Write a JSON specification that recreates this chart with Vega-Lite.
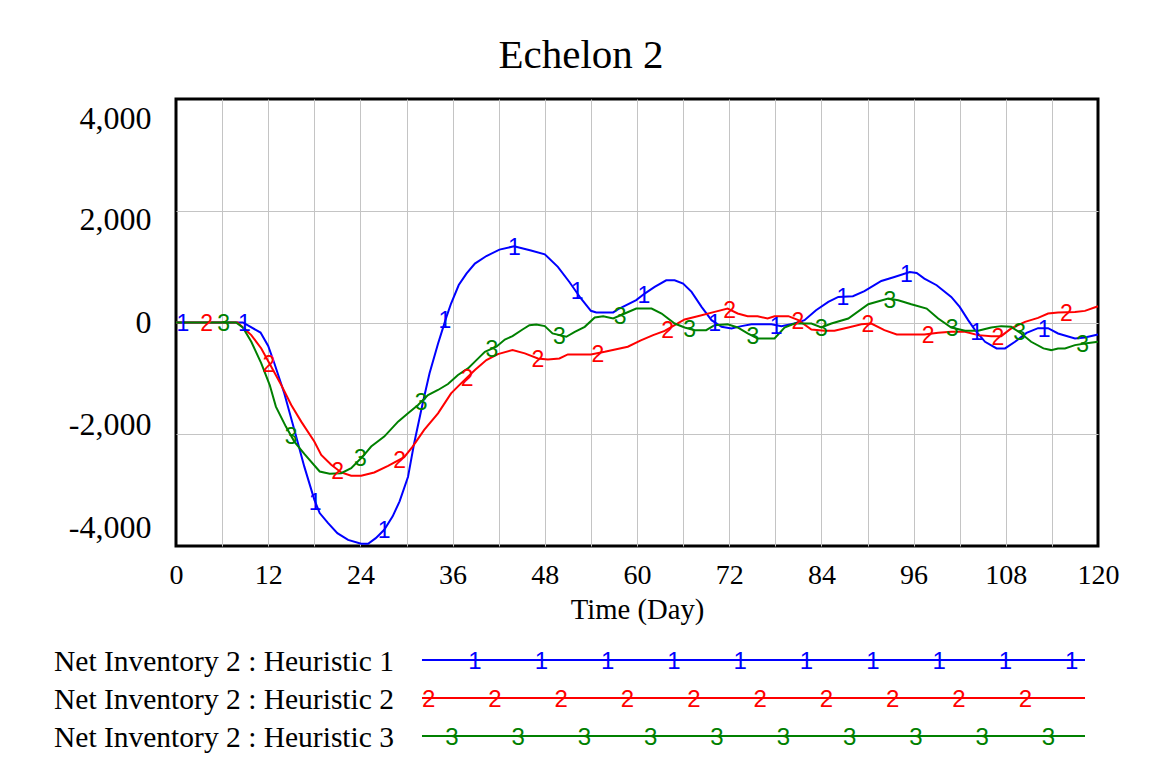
{
  "$schema": "https://vega.github.io/schema/vega-lite/v6.json",
  "autosize": {"type": "pad"},
  "padding": {"left": 53, "top": 33, "right": 36, "bottom": 15},
  "background": "white",
  "bounds": "flush",
  "spacing": 114,
  "config": {
    "view": {"stroke": "black", "strokeWidth": 3},
    "axis": {"labelFont": "Liberation Serif", "labelColor": "black", "domain": false, "ticks": false, "gridColor": "#c4c4c4", "gridWidth": 1, "gridOpacity": 1},
    "text": {"font": "Liberation Sans"}
  },
  "datasets": {
    "series": [
      {"s":"H1","t":0,"v":0},{"s":"H1","t":8.7,"v":0},{"s":"H1","t":11,"v":-180},{"s":"H1","t":12,"v":-420},{"s":"H1","t":12.8,"v":-730},{"s":"H1","t":14.1,"v":-1270},{"s":"H1","t":15.4,"v":-1920},{"s":"H1","t":16.7,"v":-2580},{"s":"H1","t":18,"v":-3170},{"s":"H1","t":18.7,"v":-3410},{"s":"H1","t":19.8,"v":-3590},{"s":"H1","t":21,"v":-3770},{"s":"H1","t":22.4,"v":-3890},{"s":"H1","t":24.1,"v":-3960},{"s":"H1","t":25,"v":-3960},{"s":"H1","t":26,"v":-3860},{"s":"H1","t":27.1,"v":-3710},{"s":"H1","t":28.2,"v":-3470},{"s":"H1","t":29.1,"v":-3200},{"s":"H1","t":30.2,"v":-2760},{"s":"H1","t":31,"v":-2160},{"s":"H1","t":32.1,"v":-1450},{"s":"H1","t":33,"v":-910},{"s":"H1","t":34.1,"v":-380},{"s":"H1","t":35.2,"v":100},{"s":"H1","t":35.8,"v":340},{"s":"H1","t":36.8,"v":670},{"s":"H1","t":37.8,"v":875},{"s":"H1","t":38.9,"v":1055},{"s":"H1","t":40.4,"v":1190},{"s":"H1","t":42.1,"v":1305},{"s":"H1","t":44,"v":1365},{"s":"H1","t":46.2,"v":1290},{"s":"H1","t":48,"v":1220},{"s":"H1","t":49.7,"v":995},{"s":"H1","t":51.2,"v":725},{"s":"H1","t":52.7,"v":430},{"s":"H1","t":54,"v":210},{"s":"H1","t":54.7,"v":180},{"s":"H1","t":56.9,"v":180},{"s":"H1","t":57.7,"v":250},{"s":"H1","t":59.9,"v":400},{"s":"H1","t":61,"v":518},{"s":"H1","t":62.3,"v":637},{"s":"H1","t":63.8,"v":756},{"s":"H1","t":64.9,"v":756},{"s":"H1","t":66,"v":696},{"s":"H1","t":67.1,"v":548},{"s":"H1","t":68.4,"v":280},{"s":"H1","t":69.7,"v":42},{"s":"H1","t":71,"v":-77},{"s":"H1","t":72.3,"v":-107},{"s":"H1","t":73.6,"v":-65},{"s":"H1","t":74.9,"v":-30},{"s":"H1","t":77.5,"v":-30},{"s":"H1","t":78.8,"v":-65},{"s":"H1","t":80.5,"v":-18},{"s":"H1","t":81.8,"v":42},{"s":"H1","t":83.3,"v":220},{"s":"H1","t":84.9,"v":369},{"s":"H1","t":86.2,"v":458},{"s":"H1","t":88.1,"v":470},{"s":"H1","t":89.6,"v":560},{"s":"H1","t":91.8,"v":744},{"s":"H1","t":93.5,"v":815},{"s":"H1","t":95.5,"v":905},{"s":"H1","t":96.4,"v":887},{"s":"H1","t":97.4,"v":786},{"s":"H1","t":99,"v":667},{"s":"H1","t":100.9,"v":458},{"s":"H1","t":102,"v":280},{"s":"H1","t":103.1,"v":42},{"s":"H1","t":104,"v":-137},{"s":"H1","t":105.3,"v":-345},{"s":"H1","t":106.8,"v":-464},{"s":"H1","t":107.9,"v":-464},{"s":"H1","t":109.2,"v":-345},{"s":"H1","t":110.7,"v":-185},{"s":"H1","t":112.2,"v":-101},{"s":"H1","t":113.5,"v":-101},{"s":"H1","t":114.8,"v":-196},{"s":"H1","t":117,"v":-286},{"s":"H1","t":118.3,"v":-268},{"s":"H1","t":120,"v":-214},
      {"s":"H2","t":0,"v":0},{"s":"H2","t":8,"v":0},{"s":"H2","t":9.8,"v":-226},{"s":"H2","t":11.1,"v":-464},{"s":"H2","t":12.4,"v":-792},{"s":"H2","t":13.7,"v":-1119},{"s":"H2","t":15,"v":-1476},{"s":"H2","t":16.3,"v":-1774},{"s":"H2","t":18,"v":-2131},{"s":"H2","t":18.9,"v":-2369},{"s":"H2","t":20.2,"v":-2547},{"s":"H2","t":21.5,"v":-2684},{"s":"H2","t":22.8,"v":-2744},{"s":"H2","t":24.1,"v":-2744},{"s":"H2","t":25.8,"v":-2684},{"s":"H2","t":27.6,"v":-2565},{"s":"H2","t":29.7,"v":-2411},{"s":"H2","t":30.8,"v":-2220},{"s":"H2","t":32.3,"v":-1923},{"s":"H2","t":34.1,"v":-1625},{"s":"H2","t":35.8,"v":-1268},{"s":"H2","t":37.1,"v":-1089},{"s":"H2","t":38.9,"v":-851},{"s":"H2","t":40.4,"v":-673},{"s":"H2","t":41.9,"v":-565},{"s":"H2","t":43.8,"v":-494},{"s":"H2","t":45.4,"v":-553},{"s":"H2","t":47.1,"v":-643},{"s":"H2","t":48.4,"v":-661},{"s":"H2","t":49.9,"v":-643},{"s":"H2","t":51,"v":-571},{"s":"H2","t":54,"v":-571},{"s":"H2","t":55.8,"v":-524},{"s":"H2","t":58.8,"v":-434},{"s":"H2","t":60.5,"v":-320},{"s":"H2","t":62.1,"v":-226},{"s":"H2","t":63.6,"v":-149},{"s":"H2","t":64.9,"v":-48},{"s":"H2","t":66.2,"v":54},{"s":"H2","t":67.9,"v":113},{"s":"H2","t":70.1,"v":190},{"s":"H2","t":71.8,"v":250},{"s":"H2","t":73.1,"v":161},{"s":"H2","t":74.4,"v":113},{"s":"H2","t":75.7,"v":113},{"s":"H2","t":77,"v":71},{"s":"H2","t":77.9,"v":113},{"s":"H2","t":79.7,"v":113},{"s":"H2","t":81,"v":42},{"s":"H2","t":82.7,"v":-125},{"s":"H2","t":84.4,"v":-149},{"s":"H2","t":85.7,"v":-149},{"s":"H2","t":87.5,"v":-89},{"s":"H2","t":89.2,"v":-30},{"s":"H2","t":90.5,"v":-18},{"s":"H2","t":92.2,"v":-137},{"s":"H2","t":93.8,"v":-214},{"s":"H2","t":97.4,"v":-214},{"s":"H2","t":99.2,"v":-185},{"s":"H2","t":100.9,"v":-167},{"s":"H2","t":102.7,"v":-167},{"s":"H2","t":104.4,"v":-226},{"s":"H2","t":106.1,"v":-244},{"s":"H2","t":107.4,"v":-244},{"s":"H2","t":108.7,"v":-107},{"s":"H2","t":110.5,"v":12},{"s":"H2","t":112.2,"v":83},{"s":"H2","t":113.5,"v":161},{"s":"H2","t":114.8,"v":179},{"s":"H2","t":117,"v":190},{"s":"H2","t":118.3,"v":208},{"s":"H2","t":120,"v":292},
      {"s":"H3","t":0,"v":0},{"s":"H3","t":7.8,"v":0},{"s":"H3","t":8.7,"v":-89},{"s":"H3","t":9.8,"v":-345},{"s":"H3","t":11.1,"v":-732},{"s":"H3","t":12.2,"v":-1119},{"s":"H3","t":13,"v":-1506},{"s":"H3","t":14.3,"v":-1863},{"s":"H3","t":15.4,"v":-2131},{"s":"H3","t":16.7,"v":-2351},{"s":"H3","t":18.7,"v":-2667},{"s":"H3","t":20,"v":-2708},{"s":"H3","t":21.5,"v":-2696},{"s":"H3","t":22.8,"v":-2607},{"s":"H3","t":24.3,"v":-2399},{"s":"H3","t":25.4,"v":-2220},{"s":"H3","t":27.1,"v":-2042},{"s":"H3","t":28.9,"v":-1774},{"s":"H3","t":30.2,"v":-1625},{"s":"H3","t":31.5,"v":-1476},{"s":"H3","t":32.8,"v":-1298},{"s":"H3","t":34.1,"v":-1208},{"s":"H3","t":35.4,"v":-1101},{"s":"H3","t":36.7,"v":-940},{"s":"H3","t":38,"v":-821},{"s":"H3","t":39.1,"v":-673},{"s":"H3","t":40.2,"v":-524},{"s":"H3","t":41.7,"v":-434},{"s":"H3","t":42.8,"v":-304},{"s":"H3","t":43.8,"v":-244},{"s":"H3","t":45.1,"v":-125},{"s":"H3","t":46,"v":-48},{"s":"H3","t":46.9,"v":-36},{"s":"H3","t":48,"v":-65},{"s":"H3","t":49,"v":-196},{"s":"H3","t":50.8,"v":-256},{"s":"H3","t":51.9,"v":-167},{"s":"H3","t":53.2,"v":-77},{"s":"H3","t":54.5,"v":89},{"s":"H3","t":55.6,"v":113},{"s":"H3","t":56.9,"v":71},{"s":"H3","t":58.4,"v":161},{"s":"H3","t":59.9,"v":250},{"s":"H3","t":61.9,"v":250},{"s":"H3","t":63.2,"v":161},{"s":"H3","t":64.9,"v":-18},{"s":"H3","t":66.2,"v":-89},{"s":"H3","t":67.5,"v":-137},{"s":"H3","t":69,"v":-137},{"s":"H3","t":70.1,"v":-48},{"s":"H3","t":71.8,"v":-30},{"s":"H3","t":73.1,"v":-89},{"s":"H3","t":74.4,"v":-196},{"s":"H3","t":75.7,"v":-286},{"s":"H3","t":77.9,"v":-286},{"s":"H3","t":79.2,"v":-89},{"s":"H3","t":80.5,"v":-18},{"s":"H3","t":82.7,"v":-18},{"s":"H3","t":84,"v":-89},{"s":"H3","t":85.3,"v":-18},{"s":"H3","t":87.5,"v":71},{"s":"H3","t":90.1,"v":327},{"s":"H3","t":92.7,"v":429},{"s":"H3","t":94,"v":399},{"s":"H3","t":95.7,"v":327},{"s":"H3","t":97.7,"v":250},{"s":"H3","t":99.2,"v":71},{"s":"H3","t":100.9,"v":-89},{"s":"H3","t":102.7,"v":-149},{"s":"H3","t":104.4,"v":-149},{"s":"H3","t":106.1,"v":-89},{"s":"H3","t":107.4,"v":-65},{"s":"H3","t":108.7,"v":-77},{"s":"H3","t":110,"v":-196},{"s":"H3","t":111.3,"v":-345},{"s":"H3","t":112.9,"v":-464},{"s":"H3","t":113.9,"v":-494},{"s":"H3","t":114.8,"v":-464},{"s":"H3","t":115.7,"v":-464},{"s":"H3","t":117,"v":-405},{"s":"H3","t":118.3,"v":-375},{"s":"H3","t":120,"v":-345}
    ],
    "markers": [
      {"s":"H1","m":"1","t":0.9,"v":0},{"s":"H1","m":"1","t":8.9,"v":0},{"s":"H1","m":"1","t":18.1,"v":-3200},{"s":"H1","m":"1","t":27.1,"v":-3700},{"s":"H1","m":"1","t":35.0,"v":50},{"s":"H1","m":"1","t":44.05,"v":1360},{"s":"H1","m":"1","t":52.2,"v":580},{"s":"H1","m":"1","t":60.9,"v":500},{"s":"H1","m":"1","t":70.1,"v":0},{"s":"H1","m":"1","t":78.1,"v":-45},{"s":"H1","m":"1","t":86.8,"v":460},{"s":"H1","m":"1","t":95.05,"v":880},{"s":"H1","m":"1","t":104.2,"v":-160},{"s":"H1","m":"1","t":113.0,"v":-100},
      {"s":"H2","m":"2","t":4.0,"v":0},{"s":"H2","m":"2","t":12.1,"v":-740},{"s":"H2","m":"2","t":21.05,"v":-2650},{"s":"H2","m":"2","t":29.1,"v":-2460},{"s":"H2","m":"2","t":37.9,"v":-990},{"s":"H2","m":"2","t":47.1,"v":-643},{"s":"H2","m":"2","t":54.9,"v":-560},{"s":"H2","m":"2","t":64.0,"v":-120},{"s":"H2","m":"2","t":72.05,"v":240},{"s":"H2","m":"2","t":80.95,"v":40},{"s":"H2","m":"2","t":90.06,"v":-20},{"s":"H2","m":"2","t":97.9,"v":-210},{"s":"H2","m":"2","t":106.98,"v":-244},{"s":"H2","m":"2","t":115.9,"v":185},
      {"s":"H3","m":"3","t":6.2,"v":0},{"s":"H3","m":"3","t":14.97,"v":-2030},{"s":"H3","m":"3","t":24.0,"v":-2420},{"s":"H3","m":"3","t":31.9,"v":-1415},{"s":"H3","m":"3","t":41.1,"v":-470},{"s":"H3","m":"3","t":49.9,"v":-225},{"s":"H3","m":"3","t":57.8,"v":130},{"s":"H3","m":"3","t":66.84,"v":-110},{"s":"H3","m":"3","t":75.09,"v":-240},{"s":"H3","m":"3","t":84.0,"v":-89},{"s":"H3","m":"3","t":92.9,"v":420},{"s":"H3","m":"3","t":101.0,"v":-90},{"s":"H3","m":"3","t":109.8,"v":-170},{"s":"H3","m":"3","t":118.0,"v":-375}
    ],
    "legendLines": [
      {"s":"H1","x":0},{"s":"H1","x":10},{"s":"H2","x":0},{"s":"H2","x":10},{"s":"H3","x":0},{"s":"H3","x":10}
    ],
    "legendMarkers": [
      {"s":"H1","m":"1","x":0.8},{"s":"H1","m":"1","x":1.8},{"s":"H1","m":"1","x":2.8},{"s":"H1","m":"1","x":3.8},{"s":"H1","m":"1","x":4.8},{"s":"H1","m":"1","x":5.8},{"s":"H1","m":"1","x":6.8},{"s":"H1","m":"1","x":7.8},{"s":"H1","m":"1","x":8.8},{"s":"H1","m":"1","x":9.8},
      {"s":"H2","m":"2","x":0.1},{"s":"H2","m":"2","x":1.1},{"s":"H2","m":"2","x":2.1},{"s":"H2","m":"2","x":3.1},{"s":"H2","m":"2","x":4.1},{"s":"H2","m":"2","x":5.1},{"s":"H2","m":"2","x":6.1},{"s":"H2","m":"2","x":7.1},{"s":"H2","m":"2","x":8.1},{"s":"H2","m":"2","x":9.1},
      {"s":"H3","m":"3","x":0.45},{"s":"H3","m":"3","x":1.45},{"s":"H3","m":"3","x":2.45},{"s":"H3","m":"3","x":3.45},{"s":"H3","m":"3","x":4.45},{"s":"H3","m":"3","x":5.45},{"s":"H3","m":"3","x":6.45},{"s":"H3","m":"3","x":7.45},{"s":"H3","m":"3","x":8.45},{"s":"H3","m":"3","x":9.45}
    ],
    "legendLabels": [
      {"s":"H1","label":"Net Inventory 2 : Heuristic 1"},
      {"s":"H2","label":"Net Inventory 2 : Heuristic 2"},
      {"s":"H3","label":"Net Inventory 2 : Heuristic 3"}
    ]
  },
  "vconcat": [
    {
      "width": 922,
      "height": 447,
      "title": {"text": "Echelon 2", "font": "Liberation Serif", "fontSize": 41, "fontWeight": "normal", "color": "black", "anchor": "middle", "dx": -56, "offset": 22},
      "layer": [
        {
          "data": {"name": "series"},
          "mark": {"type": "line", "strokeWidth": 2},
          "encoding": {
            "x": {"field": "t", "type": "quantitative", "scale": {"domain": [0, 120], "nice": false, "zero": false},
              "axis": {"orient": "bottom", "values": [0,12,24,36,48,60,72,84,96,108,120], "grid": false, "labelFontSize": 28, "labelBaseline": "alphabetic", "labelPadding": 37, "labelFlush": false, "labelOverlap": false,
                "title": "Time (Day)", "titleFont": "Liberation Serif", "titleFontSize": 28.7, "titleFontWeight": "normal", "titleColor": "black", "titleBaseline": "alphabetic", "titleY": 72.6}},
            "y": {"field": "v", "type": "quantitative", "scale": {"domain": [-4000, 4000], "nice": false},
              "axis": {"orient": "left", "values": [-4000,-2000,0,2000,4000], "labelExpr": "datum.value < 0 ? '-' + format(-datum.value, ',') : format(datum.value, ',')", "grid": false, "labelFontSize": 32, "labelPadding": 25, "labelBaseline": "middle", "labelFlush": false, "labelOverlap": false, "title": null,
                "labelOffset": {"condition": [{"test": "datum.value === 4000", "value": 19}, {"test": "datum.value === 2000", "value": 9}, {"test": "datum.value === -2000", "value": -10}, {"test": "datum.value === -4000", "value": -19}], "value": 0}}},
            "color": {"field": "s", "type": "nominal", "scale": {"domain": ["H1","H2","H3"], "range": ["#0000ff","#ff0000","#008000"]}, "legend": null}
          }
        },
        {
          "data": {"name": "markers"},
          "mark": {"type": "text", "fontSize": 23, "baseline": "middle", "align": "center", "dy": 1.5},
          "encoding": {
            "x": {"field": "t", "type": "quantitative", "axis": {"orient": "top", "values": [6,12,18,24,30,36,42,48,54,60,66,72,78,84,90,96,102,108,114], "grid": true, "labels": false, "title": null}},
            "y": {"field": "v", "type": "quantitative", "axis": {"orient": "right", "values": [-2000, 0, 2000], "grid": true, "labels": false, "title": null}},
            "text": {"field": "m"},
            "color": {"field": "s", "type": "nominal", "legend": null}
          }
        }
      ]
    },
    {
      "width": 922,
      "height": 76,
      "view": {"stroke": null},
      "layer": [
        {
          "data": {"name": "legendLines"},
          "mark": {"type": "line", "strokeWidth": 2},
          "encoding": {
            "x": {"field": "x", "type": "quantitative", "scale": {"domain": [-3.71, 10.196], "nice": false, "zero": false}, "axis": null},
            "y": {"field": "s", "type": "ordinal", "scale": {"type": "point", "padding": 0, "domain": ["H1","H2","H3"]}, "axis": null},
            "color": {"field": "s", "type": "nominal", "scale": {"domain": ["H1","H2","H3"], "range": ["#0000ff","#ff0000","#008000"]}, "legend": null}
          }
        },
        {
          "data": {"name": "legendMarkers"},
          "mark": {"type": "text", "fontSize": 24, "baseline": "middle", "align": "center", "dy": 1.5},
          "encoding": {
            "x": {"field": "x", "type": "quantitative"},
            "y": {"field": "s", "type": "ordinal"},
            "text": {"field": "m"},
            "color": {"field": "s", "type": "nominal", "legend": null}
          }
        },
        {
          "data": {"name": "legendLabels"},
          "mark": {"type": "text", "font": "Liberation Serif", "fontSize": 29.5, "baseline": "alphabetic", "align": "right", "dx": -28, "dy": 11, "color": "black"},
          "encoding": {
            "x": {"datum": 0, "type": "quantitative"},
            "y": {"field": "s", "type": "ordinal"},
            "text": {"field": "label"}
          }
        }
      ]
    }
  ]
}
